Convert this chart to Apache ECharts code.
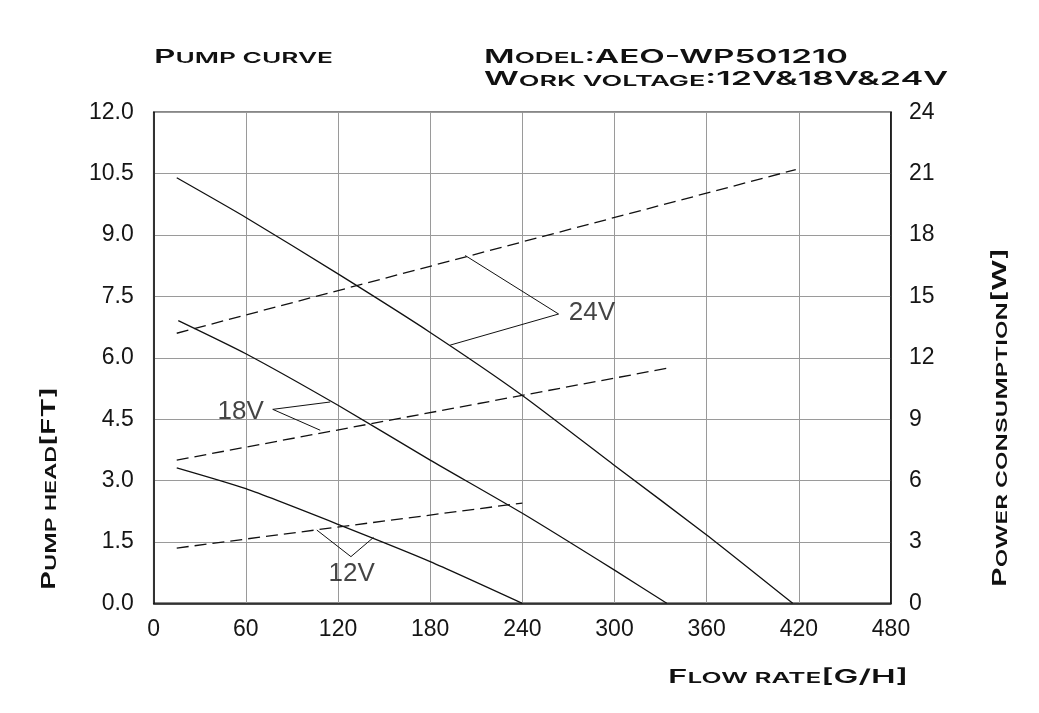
<!DOCTYPE html>
<html>
<head>
<meta charset="utf-8">
<script src="https://cdn.jsdelivr.net/npm/echarts@6/dist/echarts.min.js"></script>
<style>
html,body{margin:0;padding:0;background:#fff;}
#chart{width:1039px;height:713px;}
</style>
</head>
<body>
<div id="chart"></div>
<script>
// ---- data ----
const xTicks = [0, 60, 120, 180, 240, 300, 360, 420, 480];
const headTicks = [0.0, 1.5, 3.0, 4.5, 6.0, 7.5, 9.0, 10.5, 12.0];
const powerTicks = [0, 3, 6, 9, 12, 15, 18, 21, 24];

const flow24 = [15, 60, 120, 180, 240, 300, 360, 416];
const head24 = [10.4, 9.43, 8.05, 6.62, 5.08, 3.37, 1.67, 0];
const flow18 = [16, 60, 120, 180, 240, 300, 334];
const head18 = [6.91, 6.10, 4.84, 3.50, 2.20, 0.81, 0];
const flow12 = [15, 60, 120, 180, 240];
const head12 = [3.31, 2.80, 1.93, 1.02, 0];

const powerFlow24 = [15, 418];
const power24 = [13.2, 21.2];
const powerFlow18 = [15, 335];
const power18 = [7.0, 11.5];
const powerFlow12 = [15, 240];
const power12 = [2.7, 4.9];

// leader lines for the voltage labels (flow, head[ft])
const leader24 = [[202.8, 8.50], [263.6, 7.07], [193.0, 6.31]];
const leader18 = [[114.9, 4.92], [77.5, 4.74], [108.4, 4.23]];
const leader12 = [[106.2, 1.79], [128.4, 1.14], [143.1, 1.61]];
const voltageLabels = [['24V', 285.3, 7.10], ['18V', 56.6, 4.69], ['12V', 128.9, 0.72]];

const titleText = 'Pump curve';
const modelText = 'Model:AEO-WP501210';
const voltageText = 'Work voltage:12V&18V&24V';
const xName = 'Flow rate[G/H]';
const yName = 'Pump head[FT]';
const y2Name = 'Power consumption[W]';

// ---- helpers ----
const zip = (xs, ys) => xs.map((x, i) => [x, ys[i]]);
const TFONT = 'Inter, Roboto, sans-serif';
const BIG = 19, SMALL = 15;
const WEIGHT = '600';
const measureCtx = document.createElement('canvas').getContext('2d');
function segs(str) {
  const out = [];
  for (const ch of str) {
    let t;
    if (ch === ' ') t = out.length ? out[out.length - 1].t : 's';
    else t = (ch !== ch.toUpperCase()) ? 's' : 'b';
    if (out.length && out[out.length - 1].t === t) out[out.length - 1].s += ch;
    else out.push({ t, s: ch });
  }
  return out.map(o => ({ t: o.t, s: o.s.toUpperCase() }));
}
function fontOf(t) { return WEIGHT + ' ' + (t === 'b' ? BIG : SMALL) + 'px ' + TFONT; }
function naturalWidth(str) {
  let w = 0;
  for (const o of segs(str)) {
    measureCtx.font = fontOf(o.t);
    w += measureCtx.measureText(o.s).width;
  }
  return w;
}
const richStyles = {
  b: { font: fontOf('b'), fill: '#111', verticalAlign: 'bottom', lineHeight: 20 },
  s: { font: fontOf('s'), fill: '#111', verticalAlign: 'bottom', lineHeight: 20 }
};
function smallCaps(str, x, y, width, align, rotation) {
  return {
    type: 'text', x: x, y: y, rotation: rotation || 0,
    scaleX: width / naturalWidth(str),
    style: {
      text: segs(str).map(o => '{' + o.t + '|' + o.s + '}').join(''),
      rich: richStyles, align: align, verticalAlign: 'middle', fill: '#111'
    }
  };
}

const chart = echarts.init(document.getElementById('chart'));
const axisLabelFont = { fontFamily: 'Liberation Sans, Arial, sans-serif', fontSize: 23, color: '#151515' };
const solid = { color: '#111', width: 1.3, type: 'solid' };
const dashed = { color: '#111', width: 1.3, type: [12, 6] };

function headSeries(name, data) {
  return { name, type: 'line', data, yAxisIndex: 0, symbol: 'none', smooth: 0.2,
    lineStyle: solid, silent: true, z: 3 };
}
function powerSeries(name, data) {
  return { name, type: 'line', data, yAxisIndex: 1, symbol: 'none', lineStyle: dashed, silent: true, z: 3 };
}
function leaderSeries(data) {
  return { type: 'line', data, yAxisIndex: 0, symbol: 'none', lineStyle: { color: '#111', width: 1 }, silent: true, z: 3 };
}

chart.setOption({
  backgroundColor: '#fff',
  animation: false,
  grid: { left: 153.7, right: 148, top: 112.3, bottom: 109.7, show: true, borderColor: '#111', borderWidth: 1.5, backgroundColor: 'transparent' },
  xAxis: {
    type: 'value', min: xTicks[0], max: xTicks[xTicks.length - 1], interval: 60,
    axisLine: { show: true, lineStyle: { color: '#111', width: 1.5 } },
    axisTick: { show: false },
    axisLabel: Object.assign({ margin: 15 }, axisLabelFont),
    splitLine: { show: true, lineStyle: { color: '#9a9a9a', width: 1 } }
  },
  yAxis: [
    {
      type: 'value', min: headTicks[0], max: headTicks[headTicks.length - 1], interval: 1.5, position: 'left',
      axisLine: { show: true, lineStyle: { color: '#111', width: 1.5 } },
      axisTick: { show: false },
      axisLabel: Object.assign({ margin: 20, formatter: v => v.toFixed(1) }, axisLabelFont),
      splitLine: { show: true, lineStyle: { color: '#9a9a9a', width: 1 } }
    },
    {
      type: 'value', min: powerTicks[0], max: powerTicks[powerTicks.length - 1], interval: 3, position: 'right',
      axisLine: { show: true, lineStyle: { color: '#111', width: 1.5 } },
      axisTick: { show: false },
      axisLabel: Object.assign({ margin: 18 }, axisLabelFont),
      splitLine: { show: false }
    }
  ],
  series: [
    headSeries('24V head', zip(flow24, head24)),
    headSeries('18V head', zip(flow18, head18)),
    headSeries('12V head', zip(flow12, head12)),
    powerSeries('24V power', zip(powerFlow24, power24)),
    powerSeries('18V power', zip(powerFlow18, power18)),
    powerSeries('12V power', zip(powerFlow12, power12)),
    leaderSeries(leader24),
    leaderSeries(leader18),
    leaderSeries(leader12),
    {
      type: 'scatter', yAxisIndex: 0, symbolSize: 0, silent: true, z: 4,
      data: voltageLabels.map(l => ({ name: l[0], value: [l[1], l[2]] })),
      label: { show: true, position: 'inside', formatter: p => p.name,
        fontFamily: 'Liberation Sans, Arial, sans-serif', fontSize: 26, color: '#151515' }
    }
  ],
  graphic: [
    smallCaps(titleText, 154, 56.3, 179, 'left'),
    smallCaps(modelText, 484, 56.3, 364, 'left'),
    smallCaps(voltageText, 484, 79, 464, 'left'),
    smallCaps(xName, 668, 676.3, 240, 'left'),
    smallCaps(yName, 49, 488.5, 203, 'center', Math.PI / 2),
    smallCaps(y2Name, 1000, 417.5, 339, 'center', Math.PI / 2)
  ]
});
</script>
</body>
</html>
